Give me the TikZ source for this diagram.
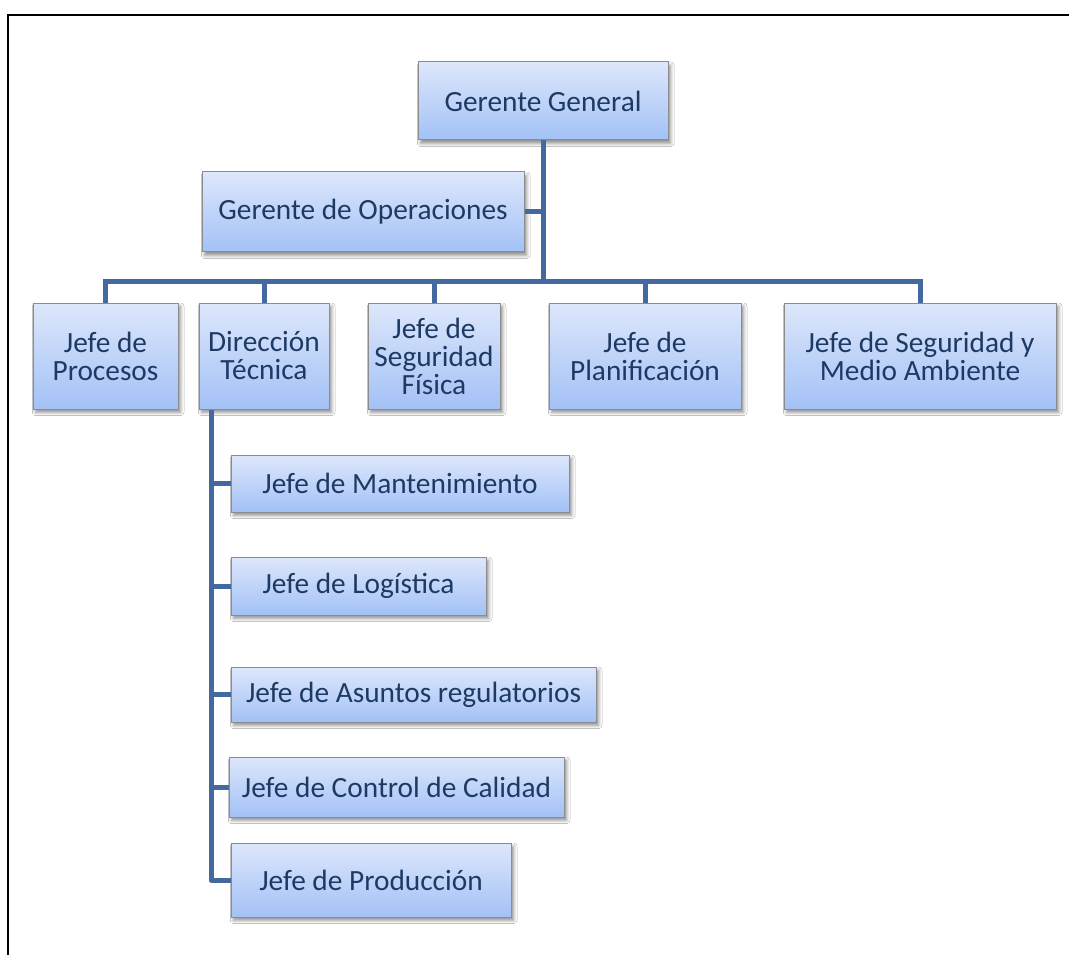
\documentclass[tikz,border=0pt]{standalone}
\usepackage{fontspec}
\setmainfont{Carlito}
\usetikzlibrary{shadows.blur,calc}

\definecolor{boxtop}{HTML}{DDE7FB}
\definecolor{boxbot}{HTML}{A3C1F6}
\definecolor{boxedge}{HTML}{8C8C8C}
\definecolor{txt}{HTML}{1E3A64}
\definecolor{linkc}{HTML}{44699E}

\tikzset{
  orgbox/.style={draw=boxedge, line width=0.75pt, top color=boxtop, bottom color=boxbot,
    text=txt, align=center, inner sep=0pt,
    font=\fontsize{22pt}{21pt}\selectfont,
    blur shadow={shadow xshift=2pt, shadow yshift=-2.5pt, shadow blur radius=2.5pt, shadow opacity=45}},
  wh/.style 2 args={minimum width=#1*0.75pt, minimum height=#2*0.75pt},
  link/.style={draw=linkc, line width=3.75pt},
  frame/.style={draw=black, line width=1.5pt}
}

\begin{document}
\begin{tikzpicture}[x=0.75pt, y=-0.75pt]
\useasboundingbox (0,0) rectangle (1069,955);
\fill[white] (0,0) rectangle (1069,955);
% page frame: top and left edges
\draw[frame] (1069,15) -- (8,15) -- (8,955);

% height of the bus line of the first level
\coordinate (bus) at (0,282);

% top level
\node[orgbox, wh={250}{78}] (GG) at (543,101) {Gerente General};
\node[orgbox, wh={322}{80}] (GO) at (363,212) {Gerente de Operaciones};

% first level
\node[orgbox, wh={145}{106}] (PRO) at (105.5,356) {Jefe de\\Procesos};
\node[orgbox, wh={130}{106}] (DT)  at (264,356)   {Dirección\\Técnica};
\node[orgbox, wh={132}{106}] (SF)  at (434,356)   {Jefe de\\Seguridad\\Física};
\node[orgbox, wh={192}{106}] (PL)  at (645,356)   {Jefe de\\Planificación};
\node[orgbox, wh={272}{106}] (SMA) at (920,356)   {Jefe de Seguridad y\\Medio Ambiente};

% second level under Dirección Técnica
\node[orgbox, wh={338}{57}] (MAN) at (400,483.5)   {Jefe de Mantenimiento};
\node[orgbox, wh={255}{58}] (LOG) at (358.5,586)   {Jefe de Logística};
\node[orgbox, wh={365}{55}] (AR)  at (413.5,694.5) {Jefe de Asuntos regulatorios};
\node[orgbox, wh={335}{60}] (CC)  at (396.5,787)   {Jefe de Control de Calidad};
\node[orgbox, wh={280}{74}] (PRD) at (371,880)     {Jefe de Producción};

% connectors
\draw[link] (GG.south) -- (GG.south |- bus);
\draw[link] (GO.east) -- (GO.east -| GG.south);
\draw[link] (PRO.north) -- (PRO.north |- bus) -| (SMA.north);
\foreach \n in {DT,SF,PL} \draw[link] (\n.north) -- (\n.north |- bus);

\coordinate (dtx) at ($(DT.south west)+(12.5,0)$);
\draw[link, line join=round] (dtx) |- (PRD.west);
\foreach \n in {MAN,LOG,AR,CC} \draw[link] (\n.west) -- (\n.west -| dtx);
\end{tikzpicture}
\end{document}
